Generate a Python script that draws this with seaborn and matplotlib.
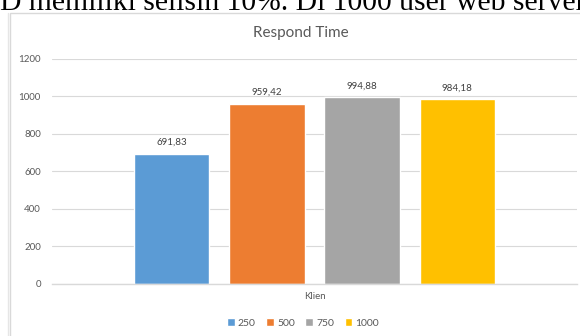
import pandas as pd
import matplotlib.pyplot as plt
from matplotlib.patches import Rectangle
from matplotlib.lines import Line2D
import seaborn as sns

# data
kategori = ["Klien"]
klien = ["250", "500", "750", "1000"]
respond_time = [691.83, 959.42, 994.88, 984.18]
warna = ["#5B9BD5", "#ED7D31", "#A5A5A5", "#FFC000"]

df = pd.DataFrame({"kategori": kategori * len(klien),
                   "klien": klien,
                   "waktu": respond_time})

sns.set_style("white")
plt.rcParams['font.family'] = ['Lato', 'DejaVu Sans']

fig = plt.figure(figsize=(5.8, 3.36), dpi=100)

# cut-off line of document text above the chart
fig.text(0.0, 1 - 10 / 336, "D memiliki selisih 10%. Di 1000 user web server",
         family=['Liberation Serif'], fontsize=21.3, color='black',
         ha='left', va='baseline')

# chart frame
fig.patches.append(Rectangle((10 / 580, -0.05), 1.0, 1 - 13 / 336 + 0.05,
                             transform=fig.transFigure, facecolor='white',
                             edgecolor='#d9d9d9', linewidth=1, zorder=-2))
fig.lines.append(Line2D([8 / 580, 8 / 580], [0, 1 - 13 / 336],
                        transform=fig.transFigure, color='#e6e6e6', lw=1,
                        zorder=-1))

ax = fig.add_axes([52 / 580, (336 - 283.5) / 336, 525 / 580, 224.5 / 336])
ax.set_facecolor('none')

sns.barplot(data=df, x="kategori", y="waktu", hue="klien", palette=warna,
            width=0.724, gap=0.21, ax=ax, saturation=1)

for cont, v in zip(ax.containers, respond_time):
    ax.bar_label(cont, labels=[f"{v:.2f}".replace('.', ',')], padding=5,
                 fontsize=7, color='#404040')

ax.set_ylim(0, 1200)
ax.set_yticks(range(0, 1201, 200))
ax.yaxis.grid(True, color='#d9d9d9', linewidth=0.8)
ax.set_axisbelow(True)
sns.despine(ax=ax, left=True, top=True, right=True, bottom=False)
ax.spines['bottom'].set_color('#d9d9d9')
ax.spines['bottom'].set_linewidth(1)
ax.tick_params(axis='y', length=0, pad=8, labelsize=7, labelcolor='#595959')
ax.tick_params(axis='x', length=0, pad=6, labelsize=7, labelcolor='#595959')
ax.set_xlabel("")
ax.set_ylabel("")

ax.set_title("Respond Time", fontsize=11, color='#595959', pad=16,
             x=(301 - 52) / 525)

handles, labels = ax.get_legend_handles_labels()
ax.get_legend().remove()
fig.legend(handles, labels, loc='center', bbox_to_anchor=(303 / 580, 1 - 323 / 336),
           ncol=4, frameon=False, fontsize=7.5, labelcolor='#595959',
           handlelength=0.75, handleheight=0.75, handletextpad=0.3,
           columnspacing=1.0)

fig.savefig("out.png", dpi=100)
